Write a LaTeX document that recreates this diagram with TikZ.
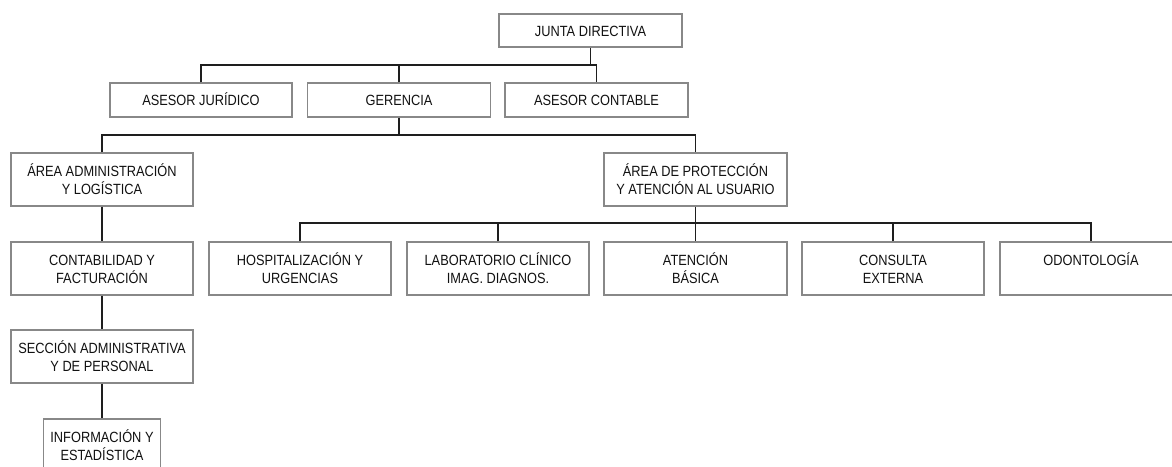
\documentclass[tikz,border=0pt]{standalone}
\usepackage{fontspec}
\setmainfont{Liberation Sans}[FakeStretch=0.865]
\newcommand\twol[2]{\begin{tabular}[t]{@{}c@{}}#1\\#2\end{tabular}}
\definecolor{boxgray}{HTML}{888888}
\definecolor{linecol}{HTML}{1E1E1E}
\definecolor{txtcol}{HTML}{111111}
\begin{document}
\begin{tikzpicture}[x=1pt,y=-1pt,
  box/.style={draw=boxgray, line width=1.1pt, fill=white, inner sep=0pt, minimum height=53pt, minimum width=182pt},
  sbox/.style={box, minimum height=34pt},
  txt/.style={font=\fontsize{14.8}{18}\selectfont, text=txtcol, inner sep=0pt, anchor=base},
  conn/.style={draw=linecol, line width=1.4pt}]
\clip (0,0) rectangle (1172,466);
\fill[white] (0,0) rectangle (1172,466);
% helper coordinates for connector bus levels
\coordinate (b1) at (0,65);
\coordinate (b2) at (0,135);
\coordinate (b3) at (0,223);
% boxes
\node[sbox, minimum height=33pt, minimum width=183pt] (jd) at (590.5,30.5) {};
\node[sbox] (aj) at (201,100) {};
\node[sbox, minimum width=183pt] (ge) at (399,100) {};
\node[sbox, minimum width=183pt] (ac) at (596.5,100) {};
\node[box] (aal) at (102,179.5) {};
\node[box, minimum width=183pt] (apu) at (695.5,179.5) {};
\node[box] (cf) at (102,268.5) {};
\node[box] (sap) at (102,356.5) {};
\node[box, minimum width=117pt] (ie) at (102,445.5) {};
\node[box] (hu) at (300,268.5) {};
\node[box] (lc) at (498,268.5) {};
\node[box, minimum width=183pt] (ab) at (695.5,268.5) {};
\node[box] (ce) at (893,268.5) {};
\node[box] (od) at (1091,268.5) {};
% connectors
\draw[conn] (jd.south) -- (jd.south |- b1);
\draw[conn] (aj.north) |- (ac.north |- b1) -- (ac.north);
\draw[conn] (ge.north) -- (ge.north |- b1);
\draw[conn] (ge.south) -- (ge.south |- b2);
\draw[conn] (aal.north) |- (apu.north |- b2) -- (apu.north);
\draw[conn] (apu.south) -- (ab.north);
\draw[conn] (hu.north) |- (od.north |- b3) -- (od.north);
\draw[conn] (lc.north) -- (lc.north |- b3);
\draw[conn] (ce.north) -- (ce.north |- b3);
\draw[conn] (aal.south) -- (cf.north);
\draw[conn] (cf.south) -- (sap.north);
\draw[conn] (sap.south) -- (ie.north);
% texts
\node[txt] (tjd) at (590.5,36.5) {JUNTA DIRECTIVA};
\node[txt] (taj) at (201,105.5) {ASESOR JURÍDICO};
\node[txt] (tge) at (399,105.5) {GERENCIA};
\node[txt] (tac) at (596.5,105.5) {ASESOR CONTABLE};
\node[txt] (taal) at (102,176) {\twol{ÁREA ADMINISTRACIÓN}{Y LOGÍSTICA}};
\node[txt] (tapu) at (695.5,176) {\twol{ÁREA DE PROTECCIÓN}{Y ATENCIÓN AL USUARIO}};
\node[txt] (tcf) at (102,265) {\twol{CONTABILIDAD Y}{FACTURACIÓN}};
\node[txt] (tsap) at (102,353) {\twol{SECCIÓN ADMINISTRATIVA}{Y DE PERSONAL}};
\node[txt] (tie) at (102,442) {\twol{INFORMACIÓN Y}{ESTADÍSTICA}};
\node[txt] (thu) at (300,265) {\twol{HOSPITALIZACIÓN Y}{URGENCIAS}};
\node[txt] (tlc) at (498,265) {\twol{LABORATORIO CLÍNICO}{IMAG. DIAGNOS.}};
\node[txt] (tab) at (695.5,265) {\twol{ATENCIÓN}{BÁSICA}};
\node[txt] (tce) at (893,265) {\twol{CONSULTA}{EXTERNA}};
\node[txt] (tod) at (1091,265) {ODONTOLOGÍA};
\end{tikzpicture}
\end{document}
